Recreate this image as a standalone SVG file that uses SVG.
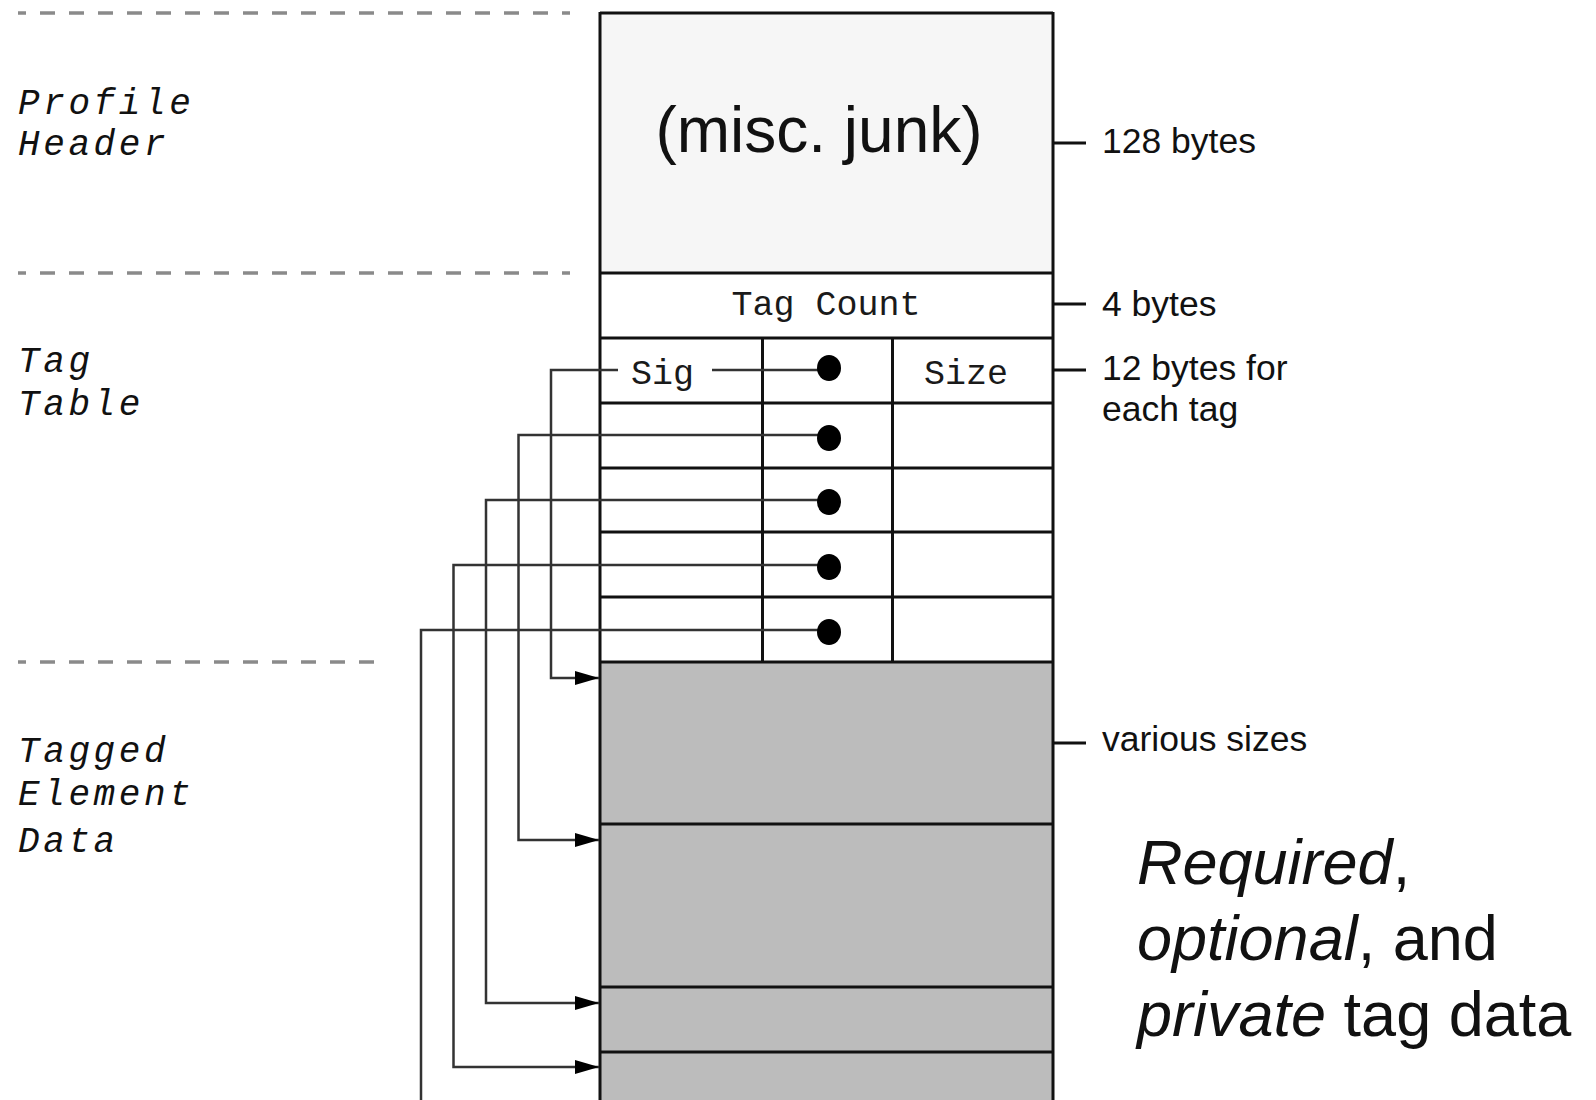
<svg xmlns="http://www.w3.org/2000/svg" width="1596" height="1100" viewBox="0 0 1596 1100">
<style>
.dash{stroke:#8a8a8a;stroke-width:3.5;stroke-dasharray:15 14;fill:none}
.mono{font-family:"Liberation Mono","Courier New",monospace;fill:#1a1a1a}
.lbl{font-family:"Liberation Mono","Courier New",monospace;font-style:italic;font-size:36px;letter-spacing:3.6px;fill:#111}
.sans{font-family:"Liberation Sans",Arial,sans-serif;fill:#111}
.edge{stroke:#111;stroke-width:3;fill:none}
.conn{stroke:#333;stroke-width:2.5;fill:none}
.dot{fill:#000}
.tick{stroke:#111;stroke-width:3}
</style>
<defs>
<marker id="arr" viewBox="0 0 24 14" refX="24" refY="7" markerWidth="24" markerHeight="14" markerUnits="userSpaceOnUse" orient="auto">
<path d="M0,0 L24,7 L0,14 Z" fill="#000"/>
</marker>
</defs>
<rect width="1596" height="1100" fill="#fff"/>

<g id="section-dividers">
<line class="dash" x1="18" y1="13" x2="570" y2="13" stroke-dashoffset="7"/>
<line class="dash" x1="18" y1="273" x2="570" y2="273" stroke-dashoffset="7"/>
<line class="dash" x1="18" y1="662" x2="376" y2="662" stroke-dashoffset="7"/>
</g>

<g id="section-labels">
<text class="lbl" x="18" y="114">Profile</text>
<text class="lbl" x="18" y="155">Header</text>
<text class="lbl" x="18" y="372">Tag</text>
<text class="lbl" x="18" y="415">Table</text>
<text class="lbl" x="18" y="762">Tagged</text>
<text class="lbl" x="18" y="805">Element</text>
<text class="lbl" x="18" y="852">Data</text>
</g>

<g id="profile-header">
<rect x="600" y="13" width="453" height="260" fill="#f6f6f6"/>
<text class="sans" x="819" y="152" font-size="64" text-anchor="middle">(misc. junk)</text>
</g>

<g id="tag-count">
<rect x="600" y="273" width="453" height="65" fill="#fff"/>
<text class="mono" x="826" y="315" font-size="35" text-anchor="middle">Tag Count</text>
</g>

<g id="tag-table">
<rect x="600" y="338" width="453" height="324" fill="#fff"/>
<line class="edge" x1="600" y1="338" x2="1053" y2="338"/>
<line class="edge" x1="600" y1="403" x2="1053" y2="403"/>
<line class="edge" x1="600" y1="468" x2="1053" y2="468"/>
<line class="edge" x1="600" y1="532" x2="1053" y2="532"/>
<line class="edge" x1="600" y1="597" x2="1053" y2="597"/>
<line class="edge" x1="762.5" y1="338" x2="762.5" y2="662"/>
<line class="edge" x1="892.5" y1="338" x2="892.5" y2="662"/>
<text class="mono" x="631" y="384" font-size="35">Sig</text>
<text class="mono" x="924" y="384" font-size="35">Size</text>
</g>

<g id="tagged-element-data">
<rect x="600" y="662" width="453" height="450" fill="#bcbcbc"/>
<line class="edge" x1="600" y1="824" x2="1053" y2="824"/>
<line class="edge" x1="600" y1="987" x2="1053" y2="987"/>
<line class="edge" x1="600" y1="1052" x2="1053" y2="1052"/>
</g>

<g id="outline">
<line class="edge" x1="600" y1="13" x2="1053" y2="13"/>
<line class="edge" x1="600" y1="273" x2="1053" y2="273" stroke-width="4"/>
<line class="edge" x1="600" y1="662" x2="1053" y2="662"/>
<line class="edge" x1="600" y1="12" x2="600" y2="1100"/>
<line class="edge" x1="1053" y1="12" x2="1053" y2="1100"/>
</g>

<g id="connectors">
<path class="conn" d="M829,370 H712 M618,370 H551 V678 H599" marker-end="url(#arr)"/>
<path class="conn" d="M829,435 H518.5 V840 H599" marker-end="url(#arr)"/>
<path class="conn" d="M829,500 H486 V1003 H599" marker-end="url(#arr)"/>
<path class="conn" d="M829,565 H453.5 V1067 H599" marker-end="url(#arr)"/>
<path class="conn" d="M829,630 H421 V1100"/>
<ellipse class="dot" cx="829" cy="368" rx="12" ry="13"/>
<ellipse class="dot" cx="829" cy="438" rx="12" ry="13"/>
<ellipse class="dot" cx="829" cy="502" rx="12" ry="13"/>
<ellipse class="dot" cx="829" cy="567" rx="12" ry="13"/>
<ellipse class="dot" cx="829" cy="632" rx="12" ry="13"/>
</g>

<g id="size-annotations">
<line class="tick" x1="1053" y1="143" x2="1086" y2="143"/>
<line class="tick" x1="1053" y1="304" x2="1086" y2="304"/>
<line class="tick" x1="1053" y1="370" x2="1086" y2="370"/>
<line class="tick" x1="1053" y1="743" x2="1086" y2="743"/>
<text class="sans" x="1102" y="153" font-size="35.5">128 bytes</text>
<text class="sans" x="1102" y="316" font-size="35.5">4 bytes</text>
<text class="sans" x="1102" y="380" font-size="35.5">12 bytes for</text>
<text class="sans" x="1102" y="421" font-size="35.5">each tag</text>
<text class="sans" x="1102" y="751" font-size="35.5">various sizes</text>
</g>

<g id="note">
<text class="sans" x="1137" y="884" font-size="63"><tspan font-style="italic">Required</tspan>,</text>
<text class="sans" x="1137" y="960" font-size="63"><tspan font-style="italic">optional</tspan>, and</text>
<text class="sans" x="1137" y="1036" font-size="63"><tspan font-style="italic">private</tspan> tag data</text>
</g>
</svg>
